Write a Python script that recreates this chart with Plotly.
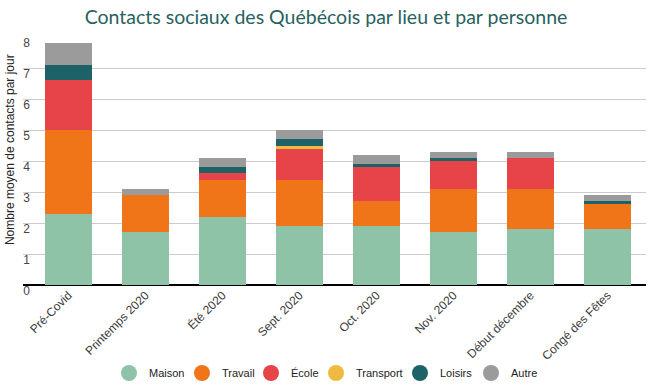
import plotly.graph_objects as go

categories = ["Pré-Covid", "Printemps 2020", "Été 2020", "Sept. 2020", "Oct. 2020",
              "Nov. 2020", "Début décembre", "Congé des Fêtes"]
maison = [2.3, 1.7, 2.2, 1.9, 1.9, 1.7, 1.8, 1.8]
travail = [2.7, 1.2, 1.2, 1.5, 0.8, 1.4, 1.3, 0.8]
ecole = [1.6, 0.0, 0.2, 1.0, 1.1, 0.9, 1.0, 0.0]
transport = [0.0, 0.0, 0.0, 0.1, 0.0, 0.0, 0.0, 0.0]
loisirs = [0.5, 0.0, 0.2, 0.2, 0.1, 0.1, 0.0, 0.1]
autre = [0.7, 0.2, 0.3, 0.3, 0.3, 0.2, 0.2, 0.2]
y_ticks = [0, 1, 2, 3, 4, 5, 6, 7, 8]

series = [
    ("Maison", maison, "#8EC3A7"),
    ("Travail", travail, "#F07518"),
    ("École", ecole, "#E64449"),
    ("Transport", transport, "#F0B942"),
    ("Loisirs", loisirs, "#1D6266"),
    ("Autre", autre, "#9B9B9B"),
]

# legend entry positions (pixel x of each symbol centre) - layout only
legend_px = [129, 202, 271, 336, 420, 491]

FONT = "Liberation Sans"
L, R, T, B = 23, 6, 37, 101
W, H = 652, 386
PW = W - L - R

fig = go.Figure()
for name, vals, col in series:
    fig.add_trace(go.Bar(x=categories, y=vals, name=name, marker_color=col,
                         marker_line_width=0, showlegend=False,
                         hovertemplate="%{x}<br>" + name + ": %{y}<extra></extra>"))

legend_layouts = {}
for i, ((name, vals, col), px) in enumerate(zip(series, legend_px)):
    lname = "legend" if i == 0 else f"legend{i + 1}"
    fig.add_trace(go.Scatter(x=[None], y=[None], mode="markers", name=name,
                             legend=lname,
                             marker=dict(color=col, size=16, symbol="circle")))
    legend_layouts[lname] = dict(
        orientation="h", x=(px - 20 - L) / PW, xanchor="left",
        y=(H - B - 373) / (H - T - B), yanchor="middle",
        bgcolor="rgba(0,0,0,0)", itemsizing="trace",
        font=dict(family=FONT, size=11, color="#222222"))

fig.add_annotation(text="Nombre moyen de contacts par jour", textangle=-90,
                   xref="paper", yref="paper", x=(10 - L) / PW, y=0.544,
                   xanchor="center", yanchor="middle", showarrow=False,
                   font=dict(family=FONT, size=12, color="#222222"))

fig.update_layout(
    width=W, height=H,
    barmode="stack", bargap=0.39,
    plot_bgcolor="white", paper_bgcolor="white",
    margin=dict(l=L, r=R, t=T, b=B, autoexpand=False),
    font=dict(family=FONT, size=12, color="#222222"),
    title=dict(text="Contacts sociaux des Québécois par lieu et par personne",
               x=0.5, xanchor="center", y=1 - 17 / H, yanchor="middle",
               font=dict(family="Lato, sans-serif", size=19.5, color="#27625E")),
    xaxis=dict(range=[-0.59, 7.5], tickangle=-45, showgrid=False, ticks="",
               tickfont=dict(family=FONT, size=12, color="#3A3A3A"), automargin=False),
    yaxis=dict(range=[0, 8], tickvals=y_ticks, showgrid=True, gridcolor="#CCCCCC",
               gridwidth=1, zeroline=True, zerolinecolor="#000000", zerolinewidth=2,
               ticklabelposition="outside", ticklabelstandoff=-8, ticklabelshift=6,
               ticks="", tickfont=dict(family=FONT, size=12, color="#444444"),
               automargin=False),
    **legend_layouts,
)

fig.write_html("out.html", config={"displayModeBar": False},
               post_script="document.body.style.margin='0px';")
